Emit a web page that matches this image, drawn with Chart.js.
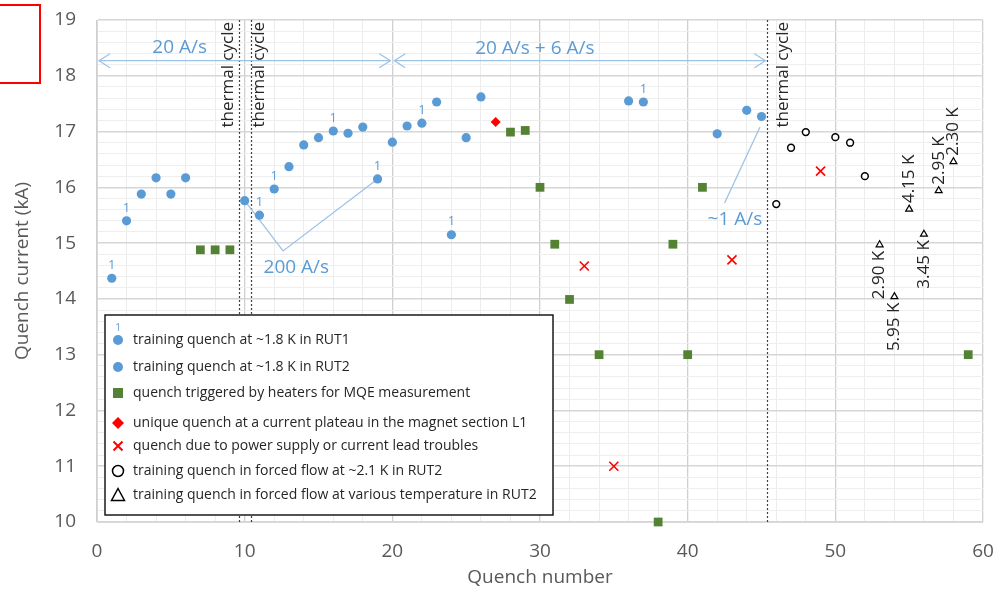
<!DOCTYPE html>
<html>
<head>
<meta charset="utf-8">
<script src="https://cdn.jsdelivr.net/npm/chart.js"></script>
<style>
body { margin: 0; background: #fff; }
#wrap { position: relative; width: 994px; height: 590px; overflow: hidden; }
#redbox { position: absolute; left: -10px; top: 4px; width: 51px; height: 80px; box-sizing: border-box; border: 2px solid #ff0000; }
</style>
</head>
<body>
<div id="wrap">
  <canvas id="quench" width="994" height="590"></canvas>
  <div id="redbox"></div>
</div>
<script>
// quench data (x = quench number, y = current in kA)
const rut1X = [1, 2, 11, 12, 16, 19, 22, 24, 37];
const rut1Y = [14.37, 15.40, 15.50, 15.97, 17.01, 16.15, 17.15, 15.15, 17.53];

const rut2X = [3, 4, 5, 6, 10, 13, 14, 15, 17, 18, 20, 21, 23, 25, 26, 36, 42, 44, 45];
const rut2Y = [15.88, 16.17, 15.88, 16.17, 15.76, 16.37, 16.76, 16.89, 16.97, 17.08, 16.81, 17.10, 17.53, 16.89, 17.62, 17.55, 16.96, 17.38, 17.27];

const heaterX = [7, 8, 9, 28, 29, 30, 31, 32, 34, 38, 39, 40, 41, 59];
const heaterY = [14.88, 14.88, 14.88, 16.99, 17.02, 16.0, 14.98, 13.99, 13.0, 10.0, 14.98, 13.0, 16.0, 13.0];

const plateauX = [27];
const plateauY = [17.17];

const supplyX = [33, 35, 43, 49];
const supplyY = [14.59, 11.0, 14.70, 16.29];

const flowX = [46, 47, 48, 50, 51, 52];
const flowY = [15.70, 16.71, 16.99, 16.90, 16.80, 16.20];

const tempX = [53, 54, 55, 56, 57, 58];
const tempY = [14.97, 14.04, 15.61, 15.16, 15.94, 16.46];
const tempLabels = ['2.90 K', '5.95 K', '4.15 K', '3.45 K', '2.95 K', '2.30 K'];
const tempAbove = [false, false, true, false, true, true];

// annotations
const thermalX = [9.6, 10.4, 45.4];
const thermalTextX = [8.85, 10.95, 46.45];
const rampSpans = [[0, 20], [20, 45.4]];
const rampY = 18.27;
const rateTexts = ['20 A/s', '20 A/s + 6 A/s', '200 A/s', '~1 A/s'];
const rateTextX = [5.6, 29.65, 13.5, 43.2];
const rateTextY = [18.5, 18.48, 14.56, 15.42];
const line200 = [[10, 15.76], [12.6, 14.86], [19, 16.15]];
const line1 = [[44.9, 17.08], [42.5, 15.72]];

const legendLabels = [
  'training quench at ~1.8 K in RUT1',
  'training quench at ~1.8 K in RUT2',
  'quench triggered by heaters for MQE measurement',
  'unique quench at a current plateau in the magnet section L1',
  'quench due to power supply or current lead troubles',
  'training quench in forced flow at ~2.1 K in RUT2',
  'training quench in forced flow at various temperature in RUT2'
];
const legendKinds = ['dot1', 'dot', 'square', 'diamond', 'x', 'ring', 'tri'];

const blue = '#5b9bd5';
const green = '#548235';
const red = '#ff0000';

function pts(xs, ys) {
  return xs.map((v, i) => ({x: v, y: ys[i]}));
}
function isWhole(v) {
  return Math.abs(v - Math.round(v)) < 1e-6;
}

function marker(ctx, kind, cx, cy) {
  ctx.save();
  if (kind === 'dot' || kind === 'dot1') {
    ctx.fillStyle = blue;
    ctx.beginPath(); ctx.arc(cx, cy, 5, 0, 2 * Math.PI); ctx.fill();
    if (kind === 'dot1') {
      ctx.font = "10px 'Open Sans'";
      ctx.textAlign = 'center'; ctx.textBaseline = 'middle';
      ctx.fillText('1', cx, cy - 12);
    }
  } else if (kind === 'square') {
    ctx.fillStyle = green;
    ctx.fillRect(cx - 5, cy - 5, 10, 10);
  } else if (kind === 'diamond') {
    ctx.fillStyle = red;
    ctx.beginPath();
    ctx.moveTo(cx, cy - 6); ctx.lineTo(cx + 6, cy); ctx.lineTo(cx, cy + 6); ctx.lineTo(cx - 6, cy);
    ctx.closePath(); ctx.fill();
  } else if (kind === 'x') {
    ctx.strokeStyle = red; ctx.lineWidth = 2;
    ctx.beginPath();
    ctx.moveTo(cx - 4.5, cy - 4.5); ctx.lineTo(cx + 4.5, cy + 4.5);
    ctx.moveTo(cx + 4.5, cy - 4.5); ctx.lineTo(cx - 4.5, cy + 4.5);
    ctx.stroke();
  } else if (kind === 'ring') {
    ctx.strokeStyle = '#000'; ctx.lineWidth = 1.5;
    ctx.beginPath(); ctx.arc(cx, cy, 5.5, 0, 2 * Math.PI); ctx.stroke();
  } else if (kind === 'tri') {
    ctx.strokeStyle = '#000'; ctx.lineWidth = 1.5;
    ctx.beginPath();
    ctx.moveTo(cx, cy - 6.5); ctx.lineTo(cx + 6.5, cy + 5.5); ctx.lineTo(cx - 6.5, cy + 5.5);
    ctx.closePath(); ctx.stroke();
  }
  ctx.restore();
}

function arrowHead(ctx, tx, ty, dir) {
  ctx.beginPath();
  ctx.moveTo(tx - dir * 11, ty - 7);
  ctx.lineTo(tx, ty);
  ctx.lineTo(tx - dir * 11, ty + 7);
  ctx.stroke();
}

const annotate = {
  id: 'annotate',
  beforeDatasetsDraw(chart) {
    const {ctx, chartArea: a, scales: {x, y}} = chart;
    ctx.save();
    // thermal cycle markers
    ctx.strokeStyle = '#404040';
    ctx.lineWidth = 1.2;
    ctx.setLineDash([2, 2]);
    thermalX.forEach(v => {
      const px = Math.round(x.getPixelForValue(v)) + 0.5;
      ctx.beginPath(); ctx.moveTo(px, a.top); ctx.lineTo(px, a.bottom); ctx.stroke();
    });
    ctx.setLineDash([]);

    // ramp rate arrows
    ctx.strokeStyle = '#9dc3e6';
    ctx.lineWidth = 1.3;
    const py = y.getPixelForValue(rampY);
    rampSpans.forEach(([v0, v1]) => {
      const p0 = x.getPixelForValue(v0) + 2, p1 = x.getPixelForValue(v1) - 2;
      ctx.beginPath(); ctx.moveTo(p0, py); ctx.lineTo(p1, py); ctx.stroke();
      arrowHead(ctx, p0, py, -1);
      arrowHead(ctx, p1, py, 1);
    });

    // pointer lines
    [line200, line1].forEach(l => {
      ctx.beginPath();
      l.forEach(([vx, vy], i) => {
        const px = x.getPixelForValue(vx), pyy = y.getPixelForValue(vy);
        if (i === 0) ctx.moveTo(px, pyy); else ctx.lineTo(px, pyy);
      });
      ctx.stroke();
    });
    ctx.restore();
  },
  afterDatasetsDraw(chart) {
    const {ctx, chartArea: a, scales: {x, y}} = chart;
    ctx.save();
    // rate texts
    ctx.fillStyle = blue;
    ctx.font = "19px 'Open Sans'";
    ctx.textAlign = 'center';
    ctx.textBaseline = 'middle';
    rateTexts.forEach((t, i) => {
      ctx.fillText(t, x.getPixelForValue(rateTextX[i]), y.getPixelForValue(rateTextY[i]));
    });

    // "1" tags on RUT1 quenches
    ctx.font = "13px 'Open Sans'";
    rut1X.forEach((v, i) => {
      ctx.fillText('1', x.getPixelForValue(v), y.getPixelForValue(rut1Y[i]) - 13);
    });

    // thermal cycle labels
    ctx.fillStyle = '#262626';
    ctx.font = "17px 'Open Sans'";
    thermalTextX.forEach(v => {
      ctx.save();
      ctx.translate(x.getPixelForValue(v), a.top + 2);
      ctx.rotate(-Math.PI / 2);
      ctx.textAlign = 'right';
      ctx.fillText('thermal cycle', 0, 0);
      ctx.restore();
    });

    // temperature labels
    ctx.font = "17px 'Open Sans'";
    tempX.forEach((v, i) => {
      ctx.save();
      const py = y.getPixelForValue(tempY[i]);
      ctx.translate(x.getPixelForValue(v), tempAbove[i] ? py - 6 : py + 6);
      ctx.rotate(-Math.PI / 2);
      ctx.textAlign = tempAbove[i] ? 'left' : 'right';
      ctx.fillText(tempLabels[i], 0, 0);
      ctx.restore();
    });

    // legend box
    const lx = 105, ly = 315, lw = 448, lh = 200;
    ctx.fillStyle = '#fff';
    ctx.fillRect(lx, ly, lw, lh);
    ctx.strokeStyle = '#1a1a1a';
    ctx.lineWidth = 1.5;
    ctx.strokeRect(lx, ly, lw, lh);
    const rows = [340, 367, 393, 423, 446, 471, 495];
    ctx.font = "14px 'Open Sans'";
    ctx.textAlign = 'left';
    legendLabels.forEach((t, i) => {
      marker(ctx, legendKinds[i], 118, rows[i]);
      ctx.fillStyle = '#262626';
      ctx.fillText(t, 133, rows[i]);
    });
    ctx.restore();
  }
};

Chart.defaults.font.family = "'Open Sans', sans-serif";

new Chart(document.getElementById('quench'), {
  type: 'scatter',
  data: {
    datasets: [
      {label: 'RUT1', data: pts(rut1X, rut1Y), pointStyle: 'circle', pointRadius: 4.6, backgroundColor: blue, borderWidth: 0, clip: false},
      {label: 'RUT2', data: pts(rut2X, rut2Y), pointStyle: 'circle', pointRadius: 4.6, backgroundColor: blue, borderWidth: 0, clip: false},
      {label: 'heaters', data: pts(heaterX, heaterY), pointStyle: 'rect', pointRadius: 6.2, backgroundColor: green, borderWidth: 0, clip: false},
      {label: 'plateau', data: pts(plateauX, plateauY), pointStyle: 'rectRot', pointRadius: 5, backgroundColor: red, borderWidth: 0, clip: false},
      {label: 'supply', data: pts(supplyX, supplyY), pointStyle: 'crossRot', pointRadius: 6.4, borderColor: red, borderWidth: 1.6, clip: false},
      {label: 'flow', data: pts(flowX, flowY), pointStyle: 'circle', pointRadius: 3.4, backgroundColor: '#fff', borderColor: '#000', borderWidth: 1.5, clip: false},
      {label: 'temps', data: pts(tempX, tempY), pointStyle: 'triangle', pointRadius: 4, backgroundColor: '#fff', borderColor: '#000', borderWidth: 1.2, clip: false}
    ]
  },
  options: {
    responsive: false,
    animation: false,
    layout: {padding: {top: 20, right: 11, left: 0, bottom: 0}},
    plugins: {legend: {display: false}, tooltip: {enabled: false}},
    scales: {
      x: {
        type: 'linear', min: 0, max: 60,
        afterFit: s => { s.height = 68; s.paddingLeft = 0; s.paddingRight = 0; },
        ticks: {
          stepSize: 2, autoSkip: false, maxRotation: 0, padding: 18,
          color: '#595959', font: {size: 19},
          callback: v => (v % 10 === 0 ? v : '')
        },
        grid: {
          drawTicks: false,
          color: c => (c.tick.value % 10 === 0 ? '#cfcfcf' : '#ececec'),
          lineWidth: c => (c.tick.value % 10 === 0 ? 1.3 : 1)
        },
        border: {color: '#d9d9d9'},
        title: {display: true, text: 'Quench number', color: '#595959', font: {size: 19}, padding: {top: 0, bottom: 1}}
      },
      y: {
        type: 'linear', min: 10, max: 19,
        afterFit: s => { s.width = 97; s.paddingTop = 0; s.paddingBottom = 0; },
        ticks: {
          stepSize: 0.2, autoSkip: false, padding: 21,
          color: '#595959', font: {size: 19},
          callback: v => (isWhole(v) ? Math.round(v) : '')
        },
        grid: {
          drawTicks: false,
          color: c => (isWhole(c.tick.value) ? '#d6d6d6' : '#eeeeee'),
          lineWidth: c => (isWhole(c.tick.value) ? 1.6 : 1)
        },
        border: {color: '#d9d9d9'},
        title: {display: true, text: 'Quench current (kA)', color: '#595959', font: {size: 19}, padding: {top: 11, bottom: 0}}
      }
    }
  },
  plugins: [annotate]
});
</script>
</body>
</html>
